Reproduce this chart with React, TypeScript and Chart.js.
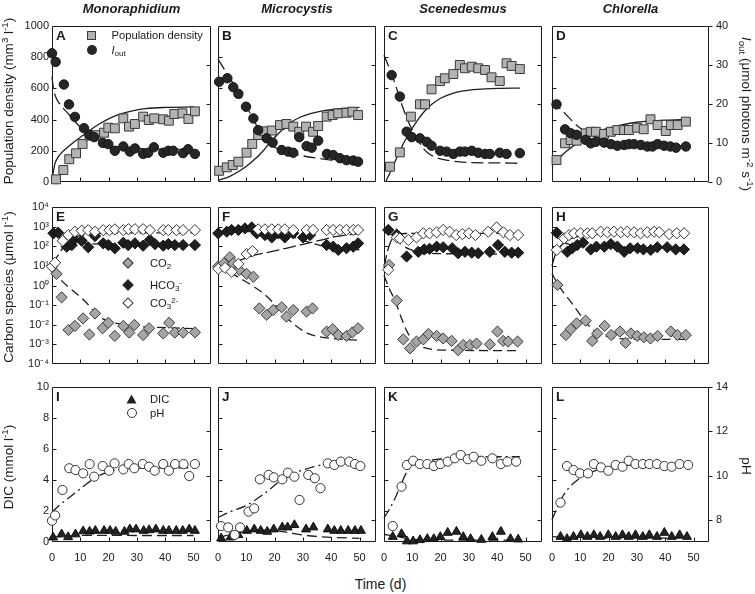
import React, { useEffect, useRef } from "react";
import { Chart, registerables } from "chart.js";
Chart.register(...registerables);

const FONT = '"Liberation Sans", Arial, Helvetica, sans-serif';

// ---------------- tick values ----------------
const dayTicks = [0, 10, 20, 30, 40, 50];
const popTicks = [0, 200, 400, 600, 800, 1000];
const ioutTicks = [0, 10, 20, 30, 40];
const carbonTicks = [1e-4, 1e-3, 1e-2, 1e-1, 1, 10, 100, 1000, 10000];
const dicTicks = [0, 2, 4, 6, 8, 10];
const phTicks = [8, 10, 12, 14];

const speciesNames = ["Monoraphidium", "Microcystis", "Scenedesmus", "Chlorella"];
const panelLetters = [["A", "B", "C", "D"], ["E", "F", "G", "H"], ["I", "J", "K", "L"]];

// ---------------- Row 1: population density (mm3 l-1) & Iout ----------------
// Monoraphidium
const dayPopA = [1.4, 4, 6.1, 8.5, 10.8, 13.3, 15.5, 18.4, 19.9, 22.2, 25.2, 27.2, 29.3, 32.2, 34.2, 36.1, 39.3, 41.3, 43.2, 46.1, 48.2, 50.5];
const popA = [17, 77, 146, 184, 244, 297, 300, 316, 348, 344, 408, 355, 372, 419, 397, 408, 402, 393, 436, 440, 404, 453];
const dayIoutA = [0, 1.3, 4.2, 6, 8.1, 11.3, 13.2, 14.9, 18, 19.9, 22.2, 25.2, 27.5, 29.3, 32.2, 34, 36, 39.3, 41.1, 42.8, 46.3, 48.1, 50.5];
const ioutA = [33, 30.8, 25, 19.9, 16.7, 13.8, 12.1, 11.5, 10, 9.7, 8, 9.1, 7.8, 8.6, 7.2, 7.5, 8.9, 7.5, 8, 8, 7.4, 8.4, 7.2];
const fitDayPopA = [0, 1, 2, 3, 5, 8, 11, 14, 17, 20, 24, 28, 33, 40, 50];
const fitPopA = [15, 115, 155, 180, 215, 260, 300, 340, 375, 405, 435, 455, 470, 478, 481];
const fitDayIoutA = [0, 0.5, 1.5, 3, 6, 9, 12, 15, 20, 25, 30, 40, 50];
const fitIoutA = [27, 24, 21.5, 19.8, 17.3, 14.8, 12.7, 11, 9.5, 8.9, 8.6, 8.4, 8.3];
// Microcystis
const dayPopB = [0.4, 3.1, 5.2, 7.2, 10.1, 12.1, 14.2, 16.3, 19, 21.9, 24.2, 26.6, 28.7, 31.1, 33.6, 35.4, 38.4, 40.5, 42.5, 45.4, 47.5, 49.5];
const popB = [72, 94, 109, 130, 188, 244, 301, 325, 330, 365, 372, 355, 322, 355, 322, 359, 419, 429, 440, 444, 451, 429];
const dayIoutB = [0.4, 3.3, 5.4, 7.2, 9.9, 12.5, 14.2, 17.2, 19.3, 22.5, 24.8, 26.6, 28.7, 31.3, 33.1, 35.4, 38.5, 40.7, 43.1, 45.4, 47.8, 49.5];
const ioutB = [25.7, 26.6, 24.3, 22.6, 19.3, 16.3, 13.3, 11.2, 10.1, 8.2, 7.8, 7.5, 11.5, 9.2, 8.8, 10.6, 7.2, 6.9, 6.1, 5.6, 5.5, 5.2];
const fitDayPopB = [0, 4, 8, 12, 16, 18, 20, 23, 26, 29, 33, 37, 42, 50];
const fitPopB = [10, 35, 75, 130, 200, 245, 285, 340, 385, 415, 440, 456, 468, 478];
const fitDayIoutB = [0, 3, 6, 10, 14, 17, 20, 25, 30, 35, 40, 45, 50];
const fitIoutB = [31.5, 28, 24.5, 19.5, 14, 10.5, 8.9, 7.5, 6.7, 6.1, 5.6, 5.2, 4.9];
// Scenedesmus
const dayPopC = [2.1, 5.6, 9.5, 12.7, 14.5, 16.8, 19.8, 21.5, 24.5, 26.8, 28.6, 31, 33.3, 35.7, 38, 40.9, 43.3, 45.1, 48];
const popC = [98, 190, 419, 498, 498, 594, 647, 665, 692, 750, 729, 739, 729, 718, 671, 647, 761, 744, 724];
const dayIoutC = [2.7, 5.6, 8, 9.8, 12.7, 15.1, 16.8, 19.8, 22.1, 24.5, 26.8, 28.6, 31, 33.3, 35.7, 37.4, 40.9, 43.3, 48];
const ioutC = [27.4, 21.9, 12.9, 11.5, 11.2, 10.3, 9.3, 8, 7.8, 7.2, 7.8, 7.8, 8, 7.5, 7.2, 7.2, 7.5, 7.2, 7.4];
const fitDayPopC = [0.5, 2, 4, 6, 8, 10, 12, 14, 17, 20, 24, 28, 33, 40, 48];
const fitPopC = [0, 55, 135, 215, 285, 345, 400, 447, 500, 537, 567, 584, 594, 600, 602];
const fitDayIoutC = [0, 2, 4, 6, 8, 10, 12, 14, 16, 18, 22, 26, 30, 40, 48];
const fitIoutC = [32.5, 29, 25, 20.5, 16.5, 13.3, 10.8, 8.5, 7.2, 6.4, 5.6, 5.2, 5.0, 4.9, 4.8];
// Chlorella
const dayPopD = [1.6, 4.6, 6.6, 8.7, 11.9, 13.7, 15.5, 18.4, 20.8, 23.1, 25.5, 27.2, 30.1, 32.4, 34.8, 37.3, 40.2, 42, 44.4, 47.3];
const popD = [141, 248, 269, 265, 312, 322, 322, 308, 322, 333, 333, 333, 348, 338, 402, 365, 327, 365, 365, 387];
const dayIoutD = [1.6, 4.6, 6.6, 8.7, 11.9, 13.7, 15.5, 18.4, 20.8, 23.1, 25.5, 27.2, 29, 31.4, 33.7, 35.5, 37.3, 39.6, 41.8, 43.8, 47.3];
const ioutD = [19.9, 13.5, 12.5, 12.1, 10.8, 9.9, 10.3, 10.1, 9.7, 9.3, 9.5, 9.7, 9.7, 9.5, 9.1, 9.1, 9.7, 9.3, 9.1, 8.8, 9.1];
const fitDayPopD = [0, 2, 4, 6, 8, 10, 13, 16, 20, 25, 30, 35, 40, 48];
const fitPopD = [105, 145, 180, 210, 238, 262, 295, 322, 345, 367, 383, 392, 397, 402];
const fitDayIoutD = [0, 2, 4, 6, 8, 10, 12, 15, 20, 25, 30, 35, 40, 48];
const fitIoutD = [21, 19.5, 18, 16.5, 15, 13.8, 12.8, 11.7, 10.6, 10, 9.7, 9.5, 9.4, 9.3];

// ---------------- Row 2: carbon species (umol l-1) ----------------
// Monoraphidium
const dayHco3E = [0.5, 2.2, 5.2, 7, 7.8, 10.5, 12.8, 15.2, 18.1, 19.9, 22.2, 25.2, 26.9, 29.3, 32.2, 34.6, 36.4, 39.3, 41.1, 43.4, 46.3, 50.5];
const hco3E = [457, 490, 95, 115, 224, 190, 89, 331, 141, 115, 79, 151, 115, 141, 107, 209, 129, 107, 129, 115, 115, 115];
const dayCo3E = [0, 1.1, 3.8, 5.8, 8.1, 10.5, 12.8, 15.2, 18.1, 20.3, 22.2, 25.2, 27, 29.3, 32.2, 34.6, 39.3, 41.1, 44, 46.3, 50.5];
const co3E = [9.1, 14.5, 190, 372, 550, 617, 661, 550, 661, 661, 724, 661, 741, 741, 741, 661, 661, 661, 661, 661, 661];
const dayCo2E = [1.6, 3.4, 5.8, 8.1, 11, 13.2, 15.2, 17.9, 19.9, 22.2, 25.2, 27.3, 29.1, 32.2, 34.3, 39.3, 41.4, 43.4, 46.3, 50.5];
const co2E = [3.9, 0.25, 0.0054, 0.0087, 0.021, 0.0032, 0.038, 0.0066, 0.0126, 0.0027, 0.0087, 0.004, 0.0098, 0.003, 0.0066, 0.0036, 0.0126, 0.004, 0.004, 0.0041];
const fitDayCo2E = [0, 3, 6, 9, 12, 15, 18, 22, 26, 30, 40, 50];
const fitCo2E = [6.3, 2.0, 0.79, 0.35, 0.14, 0.045, 0.02, 0.0126, 0.01, 0.0083, 0.0071, 0.0063];
const fitDayCo3E = [0, 2, 4, 6, 8, 12, 16, 25, 50];
const fitCo3E = [10, 32, 89, 178, 282, 398, 447, 479, 479];
const fitDayHco3E = [0, 3, 6, 10, 15, 25, 50];
const fitHco3E = [447, 282, 200, 151, 132, 126, 126];
// Microcystis
const dayHco3F = [0.1, 3.1, 4.8, 7.2, 9.5, 11.9, 13.7, 16.6, 19, 21.3, 23.6, 26.6, 30.1, 32.5, 38.4, 40.7, 42.5, 45.4, 47.8, 49.5];
const hco3F = [457, 550, 676, 676, 813, 912, 457, 372, 282, 457, 282, 457, 282, 372, 115, 95, 65, 79, 95, 141];
const dayCo3F = [0.1, 2.5, 4.8, 7.2, 10.1, 12.2, 14.2, 16.6, 19, 21.3, 23.6, 26.6, 31.3, 33.6, 38.4, 40.7, 43.1, 45.4, 47.8, 49.5];
const co3F = [7.1, 7.9, 5, 12.6, 40, 56, 724, 724, 724, 724, 724, 661, 676, 676, 676, 676, 676, 676, 676, 676];
const dayCo2F = [0, 2.1, 4.2, 5.4, 7.5, 10.1, 12.5, 14.6, 17.2, 19.5, 22.5, 24.2, 26.6, 31.3, 33.4, 38.4, 40.5, 42.5, 45.4, 47.5, 49.5];
const co2F = [9.1, 13.5, 27.5, 13.5, 6.2, 3.9, 2.8, 0.068, 0.032, 0.056, 0.078, 0.026, 0.056, 0.047, 0.068, 0.0045, 0.0059, 0.003, 0.0027, 0.0041, 0.0066];
const fitDayCo2F = [0, 4, 8, 12, 16, 20, 24, 28, 32, 36, 42, 50];
const fitCo2F = [10, 5, 2.24, 1, 0.4, 0.112, 0.025, 0.0079, 0.0035, 0.0024, 0.0019, 0.0016];
const fitDayHco3F = [0, 10, 18, 24, 30, 36, 42, 50];
const fitHco3F = [562, 562, 525, 398, 200, 112, 79, 66];
const fitDayCo3F = [0, 4, 8, 12, 18, 24, 30, 36, 42, 50];
const fitCo3F = [7.9, 12.6, 20, 32, 50, 79, 126, 200, 316, 447];
// Scenedesmus
const dayHco3G = [1.5, 4.5, 8, 12.1, 14.2, 16.1, 18.6, 20.9, 24.1, 26.2, 28.6, 31, 33.3, 37.4, 40.3, 42.7, 45.1, 47.4];
const hco3G = [676, 398, 30, 52, 69, 74, 95, 89, 79, 44, 52, 47, 44, 52, 115, 52, 47, 47];
const dayCo3G = [1.5, 4.5, 5.6, 8.6, 11.5, 13.9, 16.1, 18.6, 20.9, 23.2, 25.5, 27.7, 30, 32.3, 36.8, 39.8, 42.2, 44.5, 47.4];
const co3G = [6.3, 282, 250, 209, 282, 457, 457, 513, 676, 550, 372, 417, 457, 372, 550, 912, 513, 372, 372];
const dayCo2G = [1.8, 4.5, 6.8, 9.2, 11.5, 13.9, 15.7, 18.6, 20.9, 23.9, 26.2, 28, 30.4, 32.7, 37.4, 40.1, 42.1, 43.9, 47.2];
const co2G = [11, 0.17, 0.0018, 0.00063, 0.0014, 0.0018, 0.0034, 0.0027, 0.002, 0.0015, 0.00051, 0.00093, 0.00093, 0.0011, 0.001, 0.0045, 0.0015, 0.0014, 0.0014];
const fitDayCo2G = [0, 2, 4, 6, 8, 10, 13, 17, 25, 47];
const fitCo2G = [3.2, 0.63, 0.16, 0.025, 0.005, 0.0016, 0.00079, 0.00056, 0.0005, 0.00048];
const fitDayCo3G = [0, 1, 2, 3, 5, 8, 15, 47];
const fitCo3G = [7.9, 40, 126, 251, 398, 447, 457, 457];
const fitDayHco3G = [0, 3, 6, 9, 13, 20, 47];
const fitHco3G = [794, 316, 126, 71, 50, 42, 40];
// Chlorella
const dayHco3H = [1.7, 5.4, 7.2, 8.9, 11, 13.7, 15.7, 18.5, 20.8, 23.1, 25.5, 27.6, 30.2, 32.3, 34.9, 37.2, 40.7, 43.7, 46.6];
const hco3H = [490, 52, 79, 115, 151, 69, 95, 95, 129, 95, 52, 79, 79, 69, 65, 89, 89, 69, 69];
const dayCo3H = [1.7, 4.3, 6, 7.8, 10.1, 12.5, 14.2, 17.2, 19.6, 21.9, 24.3, 26.6, 29, 31.3, 33.7, 36.1, 37.9, 41.4, 44.1, 46.7];
const co3H = [65, 251, 372, 457, 457, 457, 457, 550, 513, 550, 513, 550, 513, 457, 513, 550, 513, 417, 457, 457];
const dayCo2H = [1.9, 4.9, 6.6, 8.7, 11.9, 14.2, 16, 18.6, 20.9, 24, 26, 27.9, 30.1, 32.5, 34.8, 37.3, 42, 44.3, 47.3];
const co2H = [1.07, 0.003, 0.0059, 0.0117, 0.0162, 0.0015, 0.0036, 0.0087, 0.003, 0.0045, 0.0012, 0.0036, 0.0027, 0.0023, 0.002, 0.0027, 0.0045, 0.003, 0.003];
const fitDayCo2H = [0, 2, 4, 7, 10, 13, 16, 20, 26, 47];
const fitCo2H = [4, 1.26, 0.45, 0.126, 0.032, 0.0089, 0.004, 0.0024, 0.0019, 0.0018];
const fitDayCo3H = [0, 1, 2, 3, 5, 8, 12, 18, 47];
const fitCo3H = [10, 32, 63, 100, 178, 282, 380, 437, 457];
const fitDayHco3H = [0, 3, 6, 10, 20, 47];
const fitHco3H = [501, 200, 126, 100, 89, 85];

// ---------------- Row 3: DIC (mmol l-1) & pH ----------------
const dayPhI = [0, 1.1, 3.7, 6.1, 8.3, 11, 13.3, 14.9, 17.9, 20.2, 22.1, 25.2, 27.1, 29.1, 32.1, 34.3, 36.3, 39.3, 41.3, 43.5, 46.5, 48.5, 50.5];
const phI = [7.96, 8.2, 9.35, 10.33, 10.25, 10.1, 10.52, 9.95, 10.43, 10.22, 10.55, 10.28, 10.52, 10.33, 10.52, 10.4, 10.22, 10.52, 10.22, 10.52, 10.52, 9.98, 10.52];
const dayDicI = [0.4, 3.4, 5.7, 8.3, 11, 13.3, 15.3, 18.4, 20.5, 22.5, 25.6, 27.5, 29.7, 32.4, 34.3, 36.7, 39.3, 41.3, 43.9, 46.2, 48.5, 50.5];
const dicI = [0.3, 0.5, 0.32, 0.5, 0.7, 0.68, 0.73, 0.73, 0.73, 0.67, 0.67, 0.82, 0.82, 0.73, 0.77, 0.82, 0.73, 0.73, 0.73, 0.73, 0.82, 0.73];
const fitDayDicI = [0, 5, 10, 20, 30, 50];
const fitDicI = [0.3, 0.38, 0.42, 0.43, 0.42, 0.42];
const fitDayPhI = [0, 3, 6, 9, 12, 15, 18, 21, 25, 30, 40, 50];
const fitPhI = [8.35, 8.7, 9.0, 9.3, 9.6, 9.88, 10.08, 10.2, 10.3, 10.33, 10.35, 10.35];

const dayPhJ = [1.1, 3.6, 5.9, 7.8, 10.8, 12.8, 14.8, 17.9, 19.7, 22.7, 24.7, 27, 28.8, 31.9, 34.2, 36.2, 38.8, 41.1, 43.4, 46.4, 48.4, 50.3];
const phJ = [7.72, 7.66, 7.32, 7.66, 8.37, 8.52, 9.83, 10.03, 9.92, 9.83, 10.13, 9.95, 8.9, 10.03, 9.88, 9.43, 10.55, 10.48, 10.63, 10.63, 10.52, 10.43];
const dayDicJ = [1.1, 4.4, 7.2, 10.2, 12.8, 15.1, 17.4, 19.7, 22.7, 24.6, 27, 31.1, 33.7, 38.8, 41.1, 43.4, 46, 48.4, 50.5];
const dicJ = [0.24, 0.3, 0.45, 0.73, 0.82, 0.73, 0.67, 0.82, 0.95, 0.95, 1.1, 0.82, 0.95, 0.82, 0.73, 0.73, 0.73, 0.73, 0.73];
const fitDayDicJ = [0, 5, 10, 15, 20, 25, 30, 35, 40, 50];
const fitDicJ = [0.3, 0.5, 0.68, 0.76, 0.74, 0.6, 0.45, 0.36, 0.3, 0.24];
const fitDayPhJ = [0, 4, 10, 16, 22, 28, 34, 40, 50];
const fitPhJ = [8.1, 8.35, 8.65, 9.15, 9.75, 10.15, 10.4, 10.55, 10.58];

const dayPhK = [3.1, 6.2, 8.1, 10.3, 12.7, 15.3, 17.6, 19.9, 22.5, 25, 27.1, 29.6, 31.7, 34.4, 38.3, 41.3, 43.6, 46.7];
const phK = [7.72, 9.5, 10.48, 10.67, 10.52, 10.52, 10.43, 10.52, 10.63, 10.78, 10.93, 10.74, 10.85, 10.67, 10.78, 10.52, 10.63, 10.63];
const dayDicK = [3.1, 6.2, 8.1, 10.3, 12.7, 15.3, 17.6, 19.9, 22.5, 25.6, 28, 30.6, 34.4, 38.3, 41.3, 44.7, 47.4];
const dicK = [0.34, 0.52, 0.05, 0.05, 0.13, 0.2, 0.2, 0.33, 0.6, 0.67, 0.33, 0.2, 0.15, 0.33, 0.67, 0.2, 0.17];
const fitDayDicK = [0, 3, 6, 9, 12, 20, 48];
const fitDicK = [0.5, 0.4, 0.3, 0.2, 0.15, 0.12, 0.12];
const fitDayPhK = [0, 2, 4, 6, 8, 10, 13, 18, 25, 35, 48];
const fitPhK = [8.1, 8.5, 9.0, 9.6, 10.15, 10.45, 10.6, 10.72, 10.83, 10.85, 10.85];

const dayPhL = [3, 5.3, 7.6, 9.9, 12.7, 14.8, 17.3, 19.9, 22.5, 24.9, 27.1, 29.5, 32.1, 34.4, 37.1, 39.7, 42.3, 45.1, 48.1];
const phL = [8.78, 10.43, 10.25, 10.1, 10.1, 10.52, 10.37, 10.22, 10.48, 10.4, 10.67, 10.52, 10.52, 10.52, 10.52, 10.43, 10.4, 10.52, 10.48];
const dayDicL = [3, 5.3, 7.6, 10.2, 12.5, 14.8, 17, 19.9, 22.5, 24.9, 27.1, 29.5, 32.1, 34.4, 37.1, 39.7, 42.3, 45.1, 47.7];
const dicL = [0.34, 0.2, 0.34, 0.45, 0.34, 0.45, 0.34, 0.45, 0.34, 0.45, 0.34, 0.45, 0.34, 0.45, 0.34, 0.6, 0.34, 0.45, 0.34];
const fitDayDicL = [0, 5, 10, 20, 47];
const fitDicL = [0.35, 0.3, 0.27, 0.25, 0.25];
const fitDayPhL = [0, 2, 4, 6, 9, 12, 16, 20, 25, 32, 47];
const fitPhL = [8.0, 8.6, 9.1, 9.45, 9.8, 10.05, 10.25, 10.37, 10.45, 10.5, 10.52];

// ---------------- layout ----------------
const COL_L = [52, 218, 384, 552];
const COL_W = [159, 158, 158, 157];
const ROW_T = [26, 207, 387];
const ROW_H = [156, 157, 155];
const PX_PER_DAY = 2.83;
const PAD = { left: 50, right: 48, top: 14, bottom: 28 };

type MarkKind = "square" | "dot" | "grayDiamond" | "blackDiamond" | "whiteDiamond" | "triangle" | "ring";
interface Mark { x: number[]; y: number[]; kind: MarkKind; axis: "y" | "y2" }
interface Fit { x: number[]; y: number[]; dash: number[]; axis: "y" | "y2" }
interface PanelDef { row: number; col: number; marks: Mark[]; fits: Fit[] }

const DASH_IOUT = [12, 5];
const DASH_C = [9, 5];
const DASH_DIC = [10, 5];
const DASH_DOT = [10, 4, 2, 4];

const MARK_STYLE: Record<MarkKind, any> = {
  square: { pointStyle: "rect", pointRadius: 6.3, pointBackgroundColor: "#b3b3b3", pointBorderColor: "#3a3a3a", pointBorderWidth: 1 },
  dot: { pointStyle: "circle", pointRadius: 4.7, pointBackgroundColor: "#262626", pointBorderColor: "#151515", pointBorderWidth: 1 },
  grayDiamond: { pointStyle: "rectRot", pointRadius: 5.6, pointBackgroundColor: "#a6a6a6", pointBorderColor: "#3a3a3a", pointBorderWidth: 1 },
  blackDiamond: { pointStyle: "rectRot", pointRadius: 5.6, pointBackgroundColor: "#1e1e1e", pointBorderColor: "#111", pointBorderWidth: 1 },
  whiteDiamond: { pointStyle: "rectRot", pointRadius: 5.6, pointBackgroundColor: "#ffffff", pointBorderColor: "#333", pointBorderWidth: 1 },
  triangle: { pointStyle: "triangle", pointRadius: 5.2, pointBackgroundColor: "#222", pointBorderColor: "#111", pointBorderWidth: 1 },
  ring: { pointStyle: "circle", pointRadius: 4.6, pointBackgroundColor: "#ffffff", pointBorderColor: "#333", pointBorderWidth: 1 },
};

const row1 = (dp: number[], p: number[], di: number[], io: number[], fdp: number[], fp: number[], fdi: number[], fi: number[]) => ({
  marks: [
    { x: di, y: io, kind: "dot", axis: "y2" },
    { x: dp, y: p, kind: "square", axis: "y" },
  ] as Mark[],
  fits: [
    { x: fdp, y: fp, dash: [], axis: "y" },
    { x: fdi, y: fi, dash: DASH_IOUT, axis: "y2" },
  ] as Fit[],
});
const row2 = (dh: number[], h: number[], dc3: number[], c3: number[], dc2: number[], c2: number[],
  fd2: number[], f2: number[], fd3: number[], f3: number[], fdh: number[], fh: number[]) => ({
  marks: [
    { x: dc3, y: c3, kind: "whiteDiamond", axis: "y" },
    { x: dh, y: h, kind: "blackDiamond", axis: "y" },
    { x: dc2, y: c2, kind: "grayDiamond", axis: "y" },
  ] as Mark[],
  fits: [
    { x: fd2, y: f2, dash: DASH_C, axis: "y" },
    { x: fd3, y: f3, dash: [13, 4], axis: "y" },
    { x: fdh, y: fh, dash: DASH_C, axis: "y" },
  ] as Fit[],
});
const row3 = (dp: number[], p: number[], dd: number[], d: number[], fdd: number[], fd: number[], fdp: number[], fp: number[]) => ({
  marks: [
    { x: dp, y: p, kind: "ring", axis: "y2" },
    { x: dd, y: d, kind: "triangle", axis: "y" },
  ] as Mark[],
  fits: [
    { x: fdd, y: fd, dash: DASH_DIC, axis: "y" },
    { x: fdp, y: fp, dash: DASH_DOT, axis: "y2" },
  ] as Fit[],
});

const PANELS: PanelDef[] = [
  { row: 0, col: 0, ...row1(dayPopA, popA, dayIoutA, ioutA, fitDayPopA, fitPopA, fitDayIoutA, fitIoutA) },
  { row: 0, col: 1, ...row1(dayPopB, popB, dayIoutB, ioutB, fitDayPopB, fitPopB, fitDayIoutB, fitIoutB) },
  { row: 0, col: 2, ...row1(dayPopC, popC, dayIoutC, ioutC, fitDayPopC, fitPopC, fitDayIoutC, fitIoutC) },
  { row: 0, col: 3, ...row1(dayPopD, popD, dayIoutD, ioutD, fitDayPopD, fitPopD, fitDayIoutD, fitIoutD) },
  { row: 1, col: 0, ...row2(dayHco3E, hco3E, dayCo3E, co3E, dayCo2E, co2E, fitDayCo2E, fitCo2E, fitDayCo3E, fitCo3E, fitDayHco3E, fitHco3E) },
  { row: 1, col: 1, ...row2(dayHco3F, hco3F, dayCo3F, co3F, dayCo2F, co2F, fitDayCo2F, fitCo2F, fitDayCo3F, fitCo3F, fitDayHco3F, fitHco3F) },
  { row: 1, col: 2, ...row2(dayHco3G, hco3G, dayCo3G, co3G, dayCo2G, co2G, fitDayCo2G, fitCo2G, fitDayCo3G, fitCo3G, fitDayHco3G, fitHco3G) },
  { row: 1, col: 3, ...row2(dayHco3H, hco3H, dayCo3H, co3H, dayCo2H, co2H, fitDayCo2H, fitCo2H, fitDayCo3H, fitCo3H, fitDayHco3H, fitHco3H) },
  { row: 2, col: 0, ...row3(dayPhI, phI, dayDicI, dicI, fitDayDicI, fitDicI, fitDayPhI, fitPhI) },
  { row: 2, col: 1, ...row3(dayPhJ, phJ, dayDicJ, dicJ, fitDayDicJ, fitDicJ, fitDayPhJ, fitPhJ) },
  { row: 2, col: 2, ...row3(dayPhK, phK, dayDicK, dicK, fitDayDicK, fitDicK, fitDayPhK, fitPhK) },
  { row: 2, col: 3, ...row3(dayPhL, phL, dayDicL, dicL, fitDayDicL, fitDicL, fitDayPhL, fitPhL) },
];

const SUP: Record<string, string> = { "-": "\u207B", "0": "\u2070", "1": "\u00B9", "2": "\u00B2", "3": "\u00B3", "4": "\u2074" };
const logLabel = (v: number) => "10" + String(Math.round(Math.log10(v))).split("").map((c) => SUP[c] || c).join("");

const pts = (xs: number[], ys: number[]) => xs.map((x, i) => ({ x, y: ys[i] }));

function framePlugin(row: number, col: number) {
  return {
    id: "frame",
    beforeDatasetsDraw(chart: any) {
      const { ctx, chartArea: a, scales } = chart;
      const l = Math.round(a.left) + 0.5, r = Math.round(a.right) - 0.5;
      const t = Math.round(a.top) + 0.5, b = Math.round(a.bottom) - 0.5;
      const T = 4;
      ctx.save();
      ctx.strokeStyle = "#1c1c1c";
      ctx.lineWidth = 1;
      ctx.setLineDash([]);
      ctx.beginPath();
      ctx.rect(l, t, r - l, b - t);
      for (const v of dayTicks) {
        if (v === 0) continue;
        const px = Math.round(scales.x.getPixelForValue(v)) + 0.5;
        ctx.moveTo(px, b);
        ctx.lineTo(px, b - T);
      }
      const leftVals = row === 0 ? popTicks : row === 1 ? carbonTicks : dicTicks;
      for (const v of leftVals) {
        const py = Math.round(scales.y.getPixelForValue(v)) + 0.5;
        if (py <= t + 1 || py >= b - 1) continue;
        ctx.moveTo(l, py);
        ctx.lineTo(l + T, py);
      }
      if (scales.y2) {
        const rightVals = row === 0 ? ioutTicks : phTicks;
        for (const v of rightVals) {
          const py = Math.round(scales.y2.getPixelForValue(v)) + 0.5;
          if (col === 3) {
            ctx.moveTo(r, py);
            ctx.lineTo(r + T, py);
          } else {
            if (py <= t + 1 || py >= b - 1) continue;
            ctx.moveTo(r - T, py);
            ctx.lineTo(r, py);
          }
        }
      }
      ctx.stroke();
      ctx.restore();
    },
  };
}

function linAxis(position: "left" | "right", min: number, max: number, ticks: number[], show: boolean) {
  return {
    type: "linear",
    position,
    min,
    max,
    afterBuildTicks: (s: any) => { s.ticks = ticks.map((v) => ({ value: v })); },
    afterFit: (s: any) => { s.width = position === "left" ? PAD.left : PAD.right; },
    grid: { display: false, drawTicks: false },
    border: { display: false },
    ticks: {
      display: show,
      padding: position === "left" ? 3 : 7,
      font: { family: FONT, size: 11 },
      color: "#1a1a1a",
      autoSkip: false,
      callback: (v: any) => String(v),
    },
  };
}

function buildConfig(p: PanelDef): any {
  const { row, col } = p;
  const w = COL_W[col];
  const scales: any = {
    x: {
      type: "linear",
      position: "bottom",
      min: 0,
      max: w / PX_PER_DAY,
      afterBuildTicks: (s: any) => { s.ticks = dayTicks.map((v) => ({ value: v })); },
      afterFit: (s: any) => { s.height = PAD.bottom; },
      grid: { display: false, drawTicks: false },
      border: { display: false },
      ticks: { display: row === 2, padding: 9, font: { family: FONT, size: 11 }, color: "#1a1a1a", maxRotation: 0, autoSkip: false, callback: (v: any) => String(v) },
    },
  };
  if (row === 0) {
    scales.y = linAxis("left", 0, 1000, popTicks, col === 0);
    scales.y2 = linAxis("right", 0, 40, ioutTicks, col === 3);
  } else if (row === 1) {
    scales.y = {
      type: "logarithmic",
      position: "left",
      min: 1e-4,
      max: 1e4,
      afterBuildTicks: (s: any) => { s.ticks = carbonTicks.map((v) => ({ value: v })); },
      afterFit: (s: any) => { s.width = PAD.left; },
      grid: { display: false, drawTicks: false },
      border: { display: false },
      ticks: { display: col === 0, padding: 3, font: { family: FONT, size: 11 }, color: "#1a1a1a", autoSkip: false, callback: (v: any) => logLabel(Number(v)) },
    };
  } else {
    scales.y = linAxis("left", 0, 10, dicTicks, col === 0);
    scales.y2 = linAxis("right", 7, 14, phTicks, col === 3);
  }
  const hasRight = !!scales.y2;
  const datasets: any[] = [];
  p.marks.forEach((m, i) => {
    datasets.push({
      data: pts(m.x, m.y),
      yAxisID: m.axis,
      showLine: false,
      order: i,
      clip: false,
      ...MARK_STYLE[m.kind],
      pointHoverRadius: MARK_STYLE[m.kind].pointRadius,
    });
  });
  p.fits.forEach((f) => {
    datasets.push({
      data: pts(f.x, f.y),
      yAxisID: f.axis,
      showLine: true,
      pointRadius: 0,
      borderColor: "#1e1e1e",
      borderWidth: 1.3,
      borderDash: f.dash,
      cubicInterpolationMode: "monotone",
      fill: false,
      order: 10,
      clip: false,
    });
  });
  return {
    type: "scatter",
    data: { datasets },
    options: {
      responsive: false,
      maintainAspectRatio: false,
      animation: false,
      devicePixelRatio: 1,
      events: [],
      layout: { padding: { left: 0, top: PAD.top, bottom: 0, right: hasRight ? 0 : PAD.right } },
      plugins: { legend: { display: false }, tooltip: { enabled: false } },
      scales,
    },
    plugins: [framePlugin(row, col)],
  };
}

function Panel({ def }: { def: PanelDef }) {
  const ref = useRef<HTMLCanvasElement>(null);
  const w = COL_W[def.col] + PAD.left + PAD.right;
  const h = ROW_H[def.row] + PAD.top + PAD.bottom;
  useEffect(() => {
    if (!ref.current) return;
    const chart = new Chart(ref.current, buildConfig(def));
    return () => chart.destroy();
  }, []);
  return (
    <canvas
      ref={ref}
      width={w}
      height={h}
      style={{ position: "absolute", left: COL_L[def.col] - PAD.left, top: ROW_T[def.row] - PAD.top, width: w, height: h }}
    />
  );
}

const subS: React.CSSProperties = { fontSize: "0.72em", verticalAlign: "-0.3em", lineHeight: 0 };
const supS: React.CSSProperties = { fontSize: "0.72em", verticalAlign: "0.5em", lineHeight: 0 };

function Marker({ kind, cx, cy }: { kind: MarkKind; cx: number; cy: number }) {
  const base: React.CSSProperties = { position: "absolute", boxSizing: "border-box" };
  if (kind === "square")
    return <div style={{ ...base, left: cx - 4.5, top: cy - 4.5, width: 9, height: 9, background: "#b3b3b3", border: "1px solid #3a3a3a" }} />;
  if (kind === "dot")
    return <div style={{ ...base, left: cx - 5, top: cy - 5, width: 10, height: 10, borderRadius: "50%", background: "#262626" }} />;
  if (kind === "ring")
    return <div style={{ ...base, left: cx - 5, top: cy - 5, width: 10, height: 10, borderRadius: "50%", background: "#fff", border: "1px solid #333" }} />;
  if (kind === "triangle")
    return (
      <svg style={{ position: "absolute", left: cx - 5.5, top: cy - 5 }} width={11} height={10}>
        <polygon points="5.5,0.5 10.5,9.5 0.5,9.5" fill="#222" />
      </svg>
    );
  const fill = kind === "grayDiamond" ? "#a6a6a6" : kind === "blackDiamond" ? "#1e1e1e" : "#fff";
  return <div style={{ ...base, left: cx - 4, top: cy - 4, width: 8, height: 8, transform: "rotate(45deg)", background: fill, border: "1px solid #333" }} />;
}

function LegendText({ x, cy, children }: { x: number; cy: number; children: React.ReactNode }) {
  return (
    <div style={{ position: "absolute", left: x, top: cy - 7, lineHeight: "14px", fontSize: 11.2, whiteSpace: "nowrap" }}>{children}</div>
  );
}

function VTitle({ cx, cy, rot, children }: { cx: number; cy: number; rot: number; children: React.ReactNode }) {
  return (
    <div
      style={{
        position: "absolute",
        left: cx,
        top: cy,
        transform: `translate(-50%, -50%) rotate(${rot}deg)`,
        whiteSpace: "nowrap",
        fontSize: 13.5,
        lineHeight: "16px",
      }}
    >
      {children}
    </div>
  );
}

export default function App() {
  return (
    <div
      style={{
        position: "absolute",
        left: 0,
        top: 0,
        width: 755,
        height: 594,
        overflow: "hidden",
        background: "#fff",
        fontFamily: FONT,
        color: "#1a1a1a",
      }}
    >
      {PANELS.map((p) => (
        <Panel key={`${p.row}-${p.col}`} def={p} />
      ))}

      {speciesNames.map((s, c) => (
        <div
          key={s}
          style={{
            position: "absolute",
            left: COL_L[c],
            width: COL_W[c],
            top: 2,
            textAlign: "center",
            fontWeight: "bold",
            fontStyle: "italic",
            fontSize: 13,
            lineHeight: "13px",
          }}
        >
          {s}
        </div>
      ))}

      {panelLetters.map((r, ri) =>
        r.map((l, ci) => (
          <div
            key={l}
            style={{
              position: "absolute",
              left: COL_L[ci] + 4,
              top: ROW_T[ri] + 3,
              fontWeight: "bold",
              fontSize: 13.5,
              lineHeight: "14px",
            }}
          >
            {l}
          </div>
        ))
      )}

      {/* legend A */}
      <Marker kind="square" cx={91.7} cy={35} />
      <LegendText x={111.5} cy={35}>Population density</LegendText>
      <Marker kind="dot" cx={91.7} cy={50} />
      <LegendText x={111.5} cy={50}>
        <i>I</i>
        <span style={subS}>out</span>
      </LegendText>

      {/* legend E */}
      <Marker kind="grayDiamond" cx={128.3} cy={263.3} />
      <LegendText x={150} cy={263.3}>
        CO<span style={subS}>2</span>
      </LegendText>
      <Marker kind="blackDiamond" cx={128.3} cy={285} />
      <LegendText x={150} cy={285}>
        HCO<span style={subS}>3</span>
        <span style={supS}>-</span>
      </LegendText>
      <Marker kind="whiteDiamond" cx={128.3} cy={303.3} />
      <LegendText x={150} cy={303.3}>
        CO<span style={subS}>3</span>
        <span style={supS}>2-</span>
      </LegendText>

      {/* legend I */}
      <Marker kind="triangle" cx={131.7} cy={399.3} />
      <LegendText x={150} cy={399.3}>DIC</LegendText>
      <Marker kind="ring" cx={131.7} cy={413.3} />
      <LegendText x={150} cy={413.3}>pH</LegendText>

      {/* axis titles */}
      <VTitle cx={9} cy={101} rot={-90}>
        Population density (mm<span style={supS}>3</span> l<span style={supS}>-1</span>)
      </VTitle>
      <VTitle cx={9} cy={287} rot={-90}>
        Carbon species (μmol l<span style={supS}>-1</span>)
      </VTitle>
      <VTitle cx={9} cy={467} rot={-90}>
        DIC (mmol l<span style={supS}>-1</span>)
      </VTitle>
      <VTitle cx={745.5} cy={114} rot={90}>
        <i>I</i>
        <span style={subS}>out</span>
        {"  "}(μmol photons m<span style={supS}>-2</span> s<span style={supS}>-1</span>)
      </VTitle>
      <VTitle cx={746} cy={466} rot={90}>
        pH
      </VTitle>
      <div
        style={{
          position: "absolute",
          left: COL_L[0],
          width: COL_L[3] + COL_W[3] - COL_L[0],
          top: 577,
          textAlign: "center",
          fontSize: 14,
          lineHeight: "14px",
        }}
      >
        Time (d)
      </div>
    </div>
  );
}
